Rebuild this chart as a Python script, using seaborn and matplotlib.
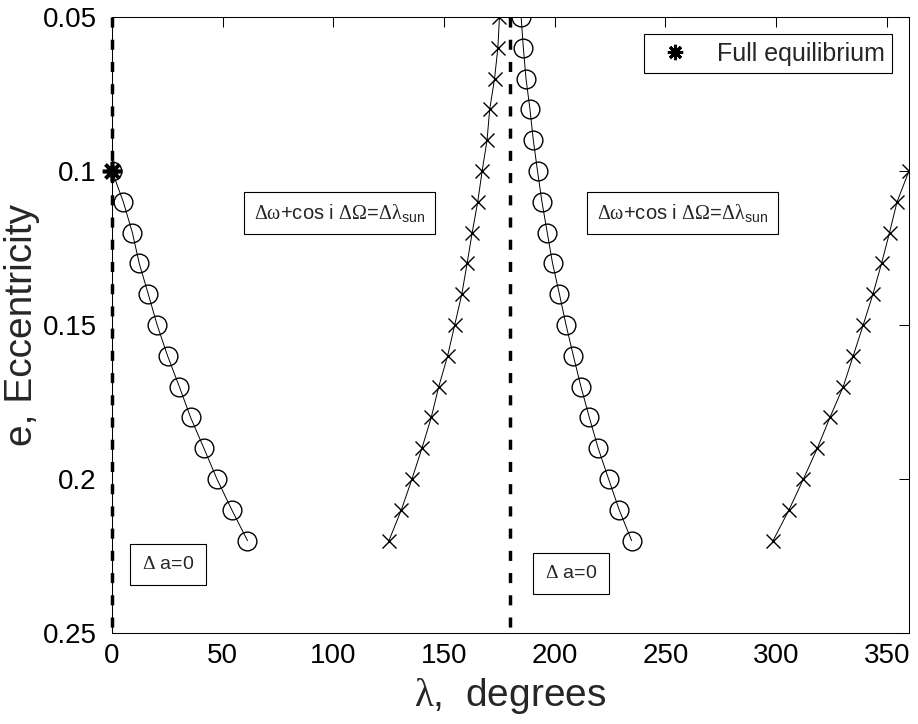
import matplotlib
matplotlib.use("Agg")
import matplotlib.pyplot as plt
import seaborn as sns
from matplotlib.lines import Line2D

# ---- data ----
e_s1 = [0.10, 0.11, 0.12, 0.13, 0.14, 0.15, 0.16, 0.17, 0.18, 0.19, 0.20, 0.21, 0.22]
lam_s1 = [0.0, 5.1, 9.2, 12.3, 16.4, 20.4, 25.1, 30.4, 35.5, 41.5, 47.4, 54.1, 61.2]

e_s2 = [0.05, 0.06, 0.07, 0.08, 0.09, 0.10, 0.11, 0.12, 0.13, 0.14, 0.15, 0.16,
        0.17, 0.18, 0.19, 0.20, 0.21, 0.22]
lam_s2 = [175.0, 174.3, 172.8, 170.6, 169.4, 167.2, 165.2, 162.7, 160.4, 158.0,
          154.8, 151.6, 147.6, 144.2, 140.0, 135.5, 130.7, 125.1]

e_s3 = [0.05, 0.06, 0.07, 0.08, 0.09, 0.10, 0.11, 0.12, 0.13, 0.14, 0.15, 0.16,
        0.17, 0.18, 0.19, 0.20, 0.21, 0.22]
lam_s3 = [184.8, 185.8, 187.0, 188.8, 190.3, 192.2, 194.2, 196.6, 199.0, 202.1,
          205.1, 208.4, 211.8, 215.6, 219.6, 224.3, 229.1, 234.7]

e_s4 = [0.10, 0.11, 0.12, 0.13, 0.14, 0.15, 0.16, 0.17, 0.18, 0.19, 0.20, 0.21, 0.22]
lam_s4 = [360.0, 354.6, 351.2, 347.6, 343.7, 339.3, 334.8, 330.3, 324.3, 318.6,
          312.3, 305.8, 298.6]

eq_lam = [0.0]
eq_e = [0.10]

vline_x = [0, 180]
e_range = [0.05, 0.25]

x_ticks = [0, 50, 100, 150, 200, 250, 300, 350]
x_ticklabels = ["0", "50", "100", "150", "200", "250", "300", "350"]
y_ticks = [0.05, 0.10, 0.15, 0.20, 0.25]
y_ticklabels = ["0.05", "0.1", "0.15", "0.2", "0.25"]

cond_text = (r"$\Delta\mathrm{\omega}$+cos i $\Delta\Omega$="
             r"$\Delta\mathrm{\lambda}_{\mathsf{sun}}$")
cond_pos = [(102.8, 0.1136), (257.7, 0.1136)]
da_text = r"$\Delta$ a=0"
da_pos = [(25.3, 0.2278), (207.3, 0.2307)]

# ---- style ----
sns.set_theme(style="white")
plt.rcParams["font.family"] = ["Liberation Sans", "DejaVu Sans"]
plt.rcParams["mathtext.fontset"] = "custom"
plt.rcParams["mathtext.rm"] = "Liberation Serif"
plt.rcParams["mathtext.it"] = "Liberation Serif:italic"
plt.rcParams["mathtext.sf"] = "Liberation Sans"

fig = plt.figure(figsize=(9.18, 7.24), dpi=100)
ax = fig.add_axes([112 / 918, 1 - 633 / 724, 797 / 918, 616 / 724])

line_kw = dict(color="black", linewidth=0.7, sort=False, estimator=None,
               ax=ax, legend=False)

sns.lineplot(x=lam_s1, y=e_s1, marker="o", markersize=13.5,
             markerfacecolor="none", markeredgecolor="black",
             markeredgewidth=1.0, **line_kw)
sns.lineplot(x=lam_s2, y=e_s2, marker="x", markersize=9.5,
             markeredgecolor="black", markeredgewidth=1.0, **line_kw)
sns.lineplot(x=lam_s3, y=e_s3, marker="o", markersize=13.5,
             markerfacecolor="none", markeredgecolor="black",
             markeredgewidth=1.0, **line_kw)
sns.lineplot(x=lam_s4, y=e_s4, marker="x", markersize=9.5,
             markeredgecolor="black", markeredgewidth=1.0, **line_kw)

# equilibrium point
star = (8, 2, 0)
sns.lineplot(x=eq_lam, y=eq_e, marker=star, markersize=14,
             markeredgecolor="black", markeredgewidth=2.6, color="black",
             linestyle="none", ax=ax, legend=False, estimator=None)
for ln in ax.lines[-1:]:
    ln.set_clip_on(False)
    ln.set_zorder(5)

# dashed vertical reference lines
for xv in vline_x:
    ax.plot([xv, xv], e_range, color="black", lw=2.5,
            linestyle=(0, (2.9, 3.5)), clip_on=False, zorder=1.5)

# text boxes
box = dict(boxstyle="square,pad=0.5", fc="white", ec="black", lw=0.8)
for (xx, yy) in cond_pos:
    ax.text(xx, yy, cond_text, fontsize=14.5, ha="center", va="center", bbox=box)
box2 = dict(boxstyle="square,pad=0.6", fc="white", ec="black", lw=0.8)
for (xx, yy) in da_pos:
    ax.text(xx, yy, da_text, fontsize=14, ha="center", va="center", bbox=box2)

# axes
ax.set_xlim(0, 360)
ax.set_ylim(0.25, 0.05)
ax.set_xticks(x_ticks)
ax.set_xticklabels(x_ticklabels)
ax.set_yticks(y_ticks)
ax.set_yticklabels(y_ticklabels)
ax.tick_params(direction="in", top=True, right=True, length=7, width=0.75,
               labelsize=20, colors="black")
ax.tick_params(axis="y", pad=11)
ax.tick_params(axis="x", pad=7)
for sp in ax.spines.values():
    sp.set_color("black")
    sp.set_linewidth(0.75)

ax.set_xlabel(r"$\mathrm{\lambda}$,  degrees", fontsize=28, labelpad=5)
ax.set_ylabel("e, Eccentricity", fontsize=28, labelpad=2)

handle = Line2D([], [], marker=star, color="black", linestyle="none",
                markersize=11, markeredgewidth=2.2)
leg = ax.legend([handle], ["Full equilibrium"], loc="upper right",
                bbox_to_anchor=(0.9787, 0.9724), borderaxespad=0,
                fontsize=18, frameon=True, fancybox=False, framealpha=1,
                edgecolor="black", handlelength=1.9, handletextpad=0.7,
                borderpad=0.3)
leg.get_frame().set_linewidth(0.8)

fig.savefig("out.png", dpi=100)
